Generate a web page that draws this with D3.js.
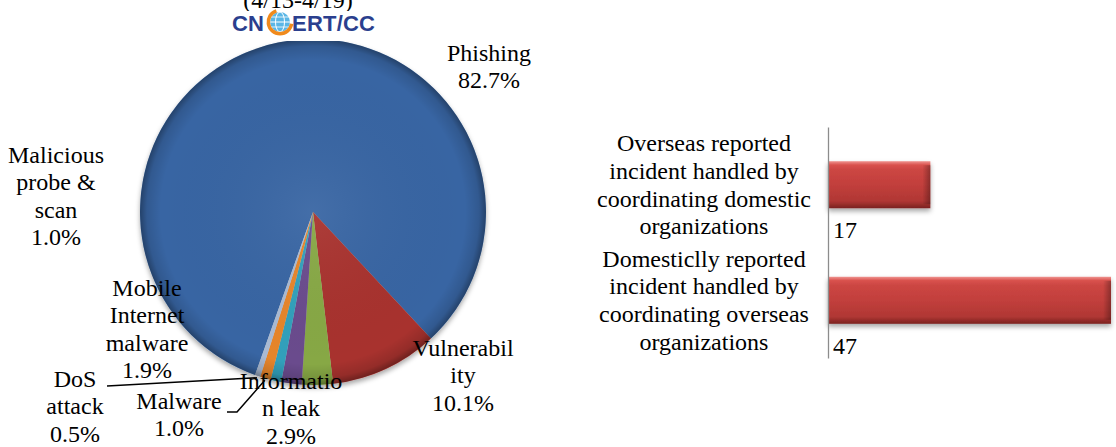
<!DOCTYPE html>
<html>
<head>
<meta charset="utf-8">
<script src="https://cdn.jsdelivr.net/npm/d3@7"></script>
</head>
<body style="margin:0;background:#fff">
<svg id="chart" width="1116" height="447" style="display:block"></svg>
<script>
// pie data (clockwise, starting with Phishing)
const pieCategories = ["Phishing", "Vulnerability", "Information leak", "Mobile Internet malware",
    "Malicious probe & scan", "Malware", "DoS attack"];
const pieValues = [82.7, 10.1, 2.9, 1.9, 1.0, 1.0, 0.5];
const pieLabelLines = [["Phishing"], ["Vulnerabil", "ity"], ["Informatio", "n leak"],
    ["Mobile", "Internet", "malware"], ["Malicious", "probe &", "scan"], ["Malware"], ["DoS", "attack"]];
const pieColors = ["#3765a3", "#a8322f", "#87a844", "#6a4c8d", "#32a0bb", "#e6852c", "#a9bad3"];

// bar data
const barCategories = ["Overseas reported incident handled by coordinating domestic organizations",
    "Domesticlly reported incident handled by coordinating overseas organizations"];
const barLabelLines = [["Overseas reported", "incident handled by", "coordinating domestic", "organizations"],
    ["Domesticlly reported", "incident handled by", "coordinating overseas", "organizations"]];
const barValues = [17, 47];

const titleText = "(4/13-4/19)";
const logoLeft = "CN";
const logoRight = "ERT/CC";

const serif = "'Liberation Serif', 'Times New Roman', Times, 'DejaVu Serif', serif";
const sans = "'Liberation Sans', Arial, sans-serif";

const svg = d3.select("#chart")
    .attr("font-family", serif)
    .attr("font-size", 24)
    .style("font-family", serif)
    .style("font-size", "24px");
const defs = svg.append("defs");

// ---------- defs ----------
const shade = defs.append("radialGradient").attr("id", "pieShade")
    .attr("cx", "50%").attr("cy", "50%").attr("r", "50%");
shade.append("stop").attr("offset", "0%").attr("stop-color", "#fff").attr("stop-opacity", 0.06);
shade.append("stop").attr("offset", "88%").attr("stop-color", "#000").attr("stop-opacity", 0);
shade.append("stop").attr("offset", "96%").attr("stop-color", "#000").attr("stop-opacity", 0.12);
shade.append("stop").attr("offset", "100%").attr("stop-color", "#000").attr("stop-opacity", 0.35);

const shadow = defs.append("filter").attr("id", "shadow")
    .attr("x", "-10%").attr("y", "-10%").attr("width", "130%").attr("height", "140%");
shadow.append("feDropShadow").attr("dx", 0).attr("dy", 3).attr("stdDeviation", 2.5)
    .attr("flood-color", "#000").attr("flood-opacity", 0.35);

const barGrad = defs.append("linearGradient").attr("id", "barGrad")
    .attr("x1", 0).attr("y1", 0).attr("x2", 0).attr("y2", 1);
[["0%", "#f09490"], ["8%", "#d9524e"], ["18%", "#cc4643"], ["50%", "#c23f3c"], ["85%", "#b03734"], ["100%", "#7a2220"]]
    .forEach(([o, c]) => barGrad.append("stop").attr("offset", o).attr("stop-color", c));

const endGrad = defs.append("linearGradient").attr("id", "endGrad")
    .attr("x1", 0).attr("y1", 0).attr("x2", 1).attr("y2", 0);
endGrad.append("stop").attr("offset", "0%").attr("stop-color", "#000").attr("stop-opacity", 0);
endGrad.append("stop").attr("offset", "100%").attr("stop-color", "#000").attr("stop-opacity", 0.3);

// ---------- pie ----------
const cx = 313, cy = 212, radius = 173;
const total = d3.sum(pieValues);
// Vulnerability slice starts a bit past 4 o'clock
const rot = 137 * Math.PI / 180;
const start = rot - pieValues[0] / total * 2 * Math.PI;

const pie = d3.pie().sort(null).startAngle(start).endAngle(start + 2 * Math.PI);
const arcs = pie(pieValues);
const arc = d3.arc().innerRadius(0).outerRadius(radius);

const pieG = svg.append("g").attr("transform", `translate(${cx},${cy})`);
const sliceG = pieG.append("g").attr("filter", "url(#shadow)");
sliceG.selectAll("path")
    .data(arcs)
    .enter()
    .append("path")
    .attr("d", arc)
    .attr("fill", (d, i) => pieColors[i]);
pieG.append("circle").attr("r", radius).attr("fill", "url(#pieShade)");

// label spots (centre x, first baseline) were placed by hand in the original
const labelSpots = [[489, 61], [463, 356], [291, 389], [147, 296], [56, 163], [179, 409], [75, 387]];
const lineGap = 27.3;
const pct = d3.format(".1f");

const labels = svg.append("g");
arcs.forEach((d, i) => {
    const lines = pieLabelLines[i].concat([pct(pieValues[i]) + "%"]);
    const t = labels.append("text")
        .attr("text-anchor", "middle");
    lines.forEach((s, k) => {
        t.append("tspan")
            .attr("x", labelSpots[i][0])
            .attr("y", labelSpots[i][1] + k * lineGap)
            .text(s);
    });
});

// leader lines for the two smallest outer labels
function edgePoint(d, r) {
    const a = (d.startAngle + d.endAngle) / 2;
    return [cx + r * Math.sin(a), cy - r * Math.cos(a)];
}
const leaders = [
    {idx: 6, pts: [[107, 386]]},
    {idx: 5, pts: [[227, 412], [237, 412]]}
];
leaders.forEach(l => {
    const pts = l.pts.concat([edgePoint(arcs[l.idx], radius + 2)]);
    svg.append("path")
        .attr("d", d3.line()(pts))
        .attr("fill", "none")
        .attr("stroke", "#000")
        .attr("stroke-width", 1.5);
});

// ---------- title + logo ----------
svg.append("text")
    .attr("x", 298).attr("y", 8)
    .attr("text-anchor", "middle")
    .text(titleText);

const logo = svg.append("g")
    .style("font-family", sans)
    .style("font-weight", "bold")
    .style("font-size", "22px");
logo.append("rect").attr("x", 228).attr("y", 11).attr("width", 152).attr("height", 30).attr("fill", "#fff");
logo.append("text")
    .attr("x", 232).attr("y", 31)
    .style("fill", "#2b3f8e")
    .text(logoLeft);
logo.append("text")
    .attr("x", 292).attr("y", 31)
    .attr("textLength", 83)
    .style("fill", "#2b3f8e")
    .text(logoRight);
// globe mark in place of the first C
const globe = logo.append("g").attr("transform", "translate(280,22)");
globe.append("circle").attr("r", 10).attr("fill", "#5ab6e6");
globe.append("ellipse").attr("rx", 4.5).attr("ry", 10).attr("fill", "none").attr("stroke", "#fff").attr("stroke-width", 1);
globe.append("line").attr("x1", -10).attr("x2", 10).attr("stroke", "#fff").attr("stroke-width", 1);
globe.append("line").attr("x1", -9).attr("x2", 9).attr("y1", -5).attr("y2", -5).attr("stroke", "#fff").attr("stroke-width", 0.8);
globe.append("line").attr("x1", -9).attr("x2", 9).attr("y1", 5).attr("y2", 5).attr("stroke", "#fff").attr("stroke-width", 0.8);
globe.append("path")
    .attr("d", d3.arc().innerRadius(10).outerRadius(13.5).startAngle(Math.PI * 0.55).endAngle(Math.PI * 1.9)())
    .attr("fill", "#f08a1c");

// ---------- bars ----------
const axisX = 828;
const x = d3.scaleLinear().domain([0, 47]).range([axisX, 1111]);
const y = d3.scaleBand().domain(barCategories).range([127, 358])
    .paddingInner(0.593).paddingOuter(0.296);

const barG = svg.append("g");
barG.selectAll("rect.bar")
    .data(barValues)
    .enter()
    .append("rect")
    .attr("class", "bar")
    .attr("x", x(0))
    .attr("y", (d, i) => y(barCategories[i]))
    .attr("width", d => x(d) - x(0))
    .attr("height", y.bandwidth())
    .attr("fill", "url(#barGrad)")
    .attr("filter", "url(#shadow)");
barG.selectAll("rect.end")
    .data(barValues)
    .enter()
    .append("rect")
    .attr("class", "end")
    .attr("x", d => x(d) - 8)
    .attr("y", (d, i) => y(barCategories[i]) + 4)
    .attr("width", 8)
    .attr("height", y.bandwidth() - 8)
    .attr("fill", "url(#endGrad)");

const yAxis = d3.axisLeft(y).tickSize(0).tickSizeOuter(0).tickFormat("");
const axisG = svg.append("g")
    .attr("transform", `translate(${axisX},0)`)
    .call(yAxis);
axisG.select(".domain").attr("stroke", "#8c8c8c").attr("stroke-width", 1.3);

// value labels under the bars
barG.selectAll("text.value")
    .data(barValues)
    .enter()
    .append("text")
    .attr("class", "value")
    .attr("x", axisX + 5)
    .attr("y", (d, i) => y(barCategories[i]) + y.bandwidth() + 30)
    .text(d => d);

// category labels, centred on each band
const catG = svg.append("g");
barCategories.forEach((c, i) => {
    const lines = barLabelLines[i];
    const mid = y(c) + y.bandwidth() / 2;
    const t = catG.append("text").attr("text-anchor", "middle");
    lines.forEach((s, k) => {
        t.append("tspan")
            .attr("x", 704)
            .attr("y", mid + 8 + (k - (lines.length - 1) / 2) * 27.8)
            .text(s);
    });
});
</script>
</body>
</html>
